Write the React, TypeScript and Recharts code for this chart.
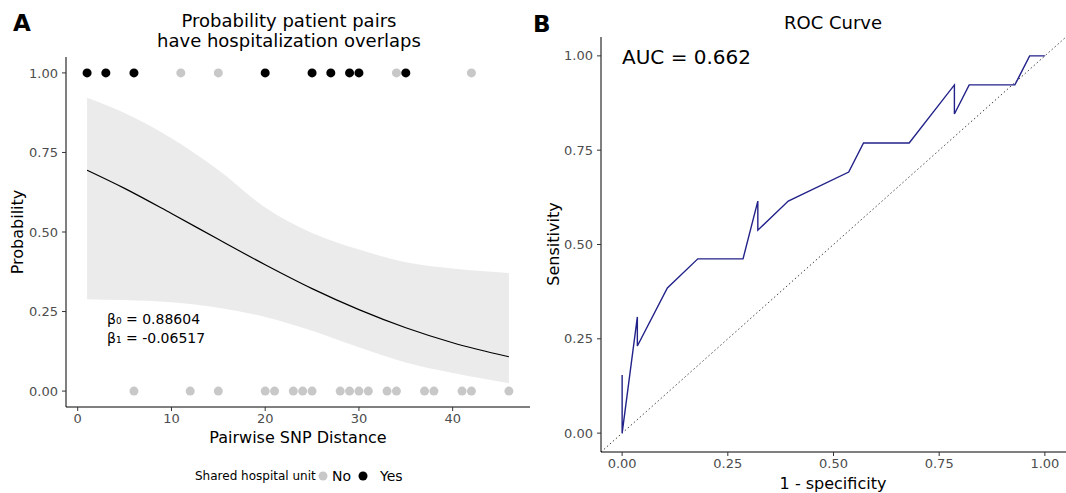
import {
  Area,
  ComposedChart,
  Line,
  ReferenceLine,
  Scatter,
  XAxis,
  YAxis,
} from "recharts";

const FONT = "'DejaVu Sans', Verdana, sans-serif";
const TICK_COLOR = "#4d4d4d";

// panel A: fitted logistic curve with its confidence band
const curveX = [1, 5, 10, 15, 20, 25, 30, 35, 40, 46];
const fitP = [0.694, 0.637, 0.558, 0.477, 0.397, 0.322, 0.256, 0.199, 0.152, 0.108];
const ciHigh = [0.922, 0.874, 0.795, 0.695, 0.577, 0.497, 0.445, 0.405, 0.385, 0.371];
const ciLow = [0.289, 0.286, 0.279, 0.262, 0.233, 0.19, 0.138, 0.09, 0.057, 0.025];

// observed pairs (SNP distance), by outcome and shared unit
const overlapNo = [11, 15, 34, 42];
const overlapYes = [1, 3, 6, 20, 25, 27, 29, 30, 35];
const noOverlapNo = [6, 12, 15, 20, 21, 23, 24, 25, 28, 29, 30, 31, 33, 34, 37, 38, 41, 42, 46];

const distTicks = [0, 10, 20, 30, 40];
const probTicks = [0, 0.25, 0.5, 0.75, 1];

// panel B: ROC path, in drawing order
const fpr = [0, 0, 0.036, 0.036, 0.107, 0.179, 0.286, 0.321, 0.321, 0.393, 0.536, 0.571, 0.679, 0.786, 0.786, 0.821, 0.929, 0.964, 1];
const tpr = [0.154, 0, 0.308, 0.231, 0.385, 0.462, 0.462, 0.615, 0.538, 0.615, 0.692, 0.769, 0.769, 0.923, 0.846, 0.923, 0.923, 1, 1];

const curveRows = curveX.map((x, i) => ({
  x,
  fit: fitP[i],
  band: [ciLow[i], ciHigh[i]],
}));
const grayPts = [
  ...overlapNo.map((x) => ({ x, y: 1 })),
  ...noOverlapNo.map((x) => ({ x, y: 0 })),
];
const blackPts = overlapYes.map((x) => ({ x, y: 1 }));
const rocRows = fpr.map((f, i) => ({ fpr: f, tpr: tpr[i] }));

const tick = { fill: TICK_COLOR, fontSize: 13, fontFamily: FONT };
const fmt2 = (v: number) => v.toFixed(2);

export default function App() {
  return (
    <div style={{ position: "relative", width: 1066, height: 493, background: "#fff", fontFamily: FONT }}>
      <style>{`body{margin:0}`}</style>

      <div style={{ position: "absolute", left: 0, top: 0 }}>
        <ComposedChart width={540} height={493} data={curveRows} margin={{ top: 57, right: 10, bottom: 56, left: 26 }}>
          <XAxis
            type="number"
            dataKey="x"
            domain={[-1.25, 48.25]}
            ticks={distTicks}
            allowDataOverflow
            tick={tick}
            tickSize={4}
            tickMargin={3}
            axisLine={{ stroke: "#000", strokeWidth: 1 }}
            tickLine={{ stroke: "#333" }}
          />
          <YAxis
            type="number"
            dataKey="y"
            domain={[-0.05, 1.05]}
            ticks={probTicks}
            allowDataOverflow
            tickFormatter={fmt2}
            width={40}
            tick={tick}
            tickSize={4}
            tickMargin={4}
            axisLine={{ stroke: "#000", strokeWidth: 1 }}
            tickLine={{ stroke: "#333" }}
          />
          <Area
            dataKey="band"
            type="monotone"
            fill="#ebebeb"
            fillOpacity={1}
            stroke="none"
            isAnimationActive={false}
          />
          <Line dataKey="fit" type="monotone" stroke="#000" strokeWidth={1.2} dot={false} isAnimationActive={false} />
          <Scatter data={grayPts} dataKey="y" fill="#c8c8c8" isAnimationActive={false} />
          <Scatter data={blackPts} dataKey="y" fill="#000" isAnimationActive={false} />
        </ComposedChart>
      </div>

      <div style={{ position: "absolute", left: 530, top: 0 }}>
        <ComposedChart width={536} height={493} data={rocRows} margin={{ top: 37, right: 0, bottom: 11, left: 31 }}>
          <XAxis
            type="number"
            dataKey="fpr"
            domain={[-0.05, 1.05]}
            ticks={probTicks}
            allowDataOverflow
            tickFormatter={fmt2}
            tick={tick}
            tickSize={4}
            tickMargin={3}
            axisLine={{ stroke: "#000", strokeWidth: 1 }}
            tickLine={{ stroke: "#333" }}
          />
          <YAxis
            type="number"
            dataKey="tpr"
            domain={[-0.05, 1.05]}
            ticks={probTicks}
            allowDataOverflow
            tickFormatter={fmt2}
            width={40}
            tick={tick}
            tickSize={4}
            tickMargin={4}
            axisLine={{ stroke: "#000", strokeWidth: 1 }}
            tickLine={{ stroke: "#333" }}
          />
          <ReferenceLine
            segment={[
              { x: -0.05, y: -0.05 },
              { x: 1.05, y: 1.05 },
            ]}
            stroke="#444"
            strokeWidth={1}
            strokeDasharray="1.5 2.5"
            ifOverflow="visible"
          />
          <Line dataKey="tpr" type="linear" stroke="#22228a" strokeWidth={1.4} dot={false} isAnimationActive={false} />
        </ComposedChart>
      </div>

      <svg
        width={1066}
        height={493}
        style={{ position: "absolute", left: 0, top: 0, pointerEvents: "none" }}
        fontFamily={FONT}
      >
        <text x={13} y={31} fontSize={23} fontWeight="bold">A</text>
        <text x={533} y={32} fontSize={23} fontWeight="bold">B</text>

        <text x={289} y={27} fontSize={18} textAnchor="middle">Probability patient pairs</text>
        <text x={289} y={47} fontSize={18} textAnchor="middle">have hospitalization overlaps</text>
        <text x={833} y={29} fontSize={18} textAnchor="middle">ROC Curve</text>

        <text x={23} y={232} fontSize={16} textAnchor="middle" transform="rotate(-90 23 232)">Probability</text>
        <text x={559} y={244} fontSize={16} textAnchor="middle" transform="rotate(-90 559 244)">Sensitivity</text>
        <text x={298} y={443} fontSize={16} textAnchor="middle">Pairwise SNP Distance</text>
        <text x={833} y={489} fontSize={16} textAnchor="middle">1 - specificity</text>

        <text x={622} y={64} fontSize={20}>AUC = 0.662</text>
        <text x={107} y={324} fontSize={14}>β₀ = 0.88604</text>
        <text x={107} y={343} fontSize={14}>β₁ = -0.06517</text>

        <text x={195} y={480} fontSize={12}>Shared hospital unit</text>
        <circle cx={323} cy={476} r={4.5} fill="#c8c8c8" />
        <text x={332} y={481} fontSize={14}>No</text>
        <circle cx={363} cy={476} r={4.5} fill="#000" />
        <text x={380} y={481} fontSize={14}>Yes</text>
      </svg>
    </div>
  );
}
